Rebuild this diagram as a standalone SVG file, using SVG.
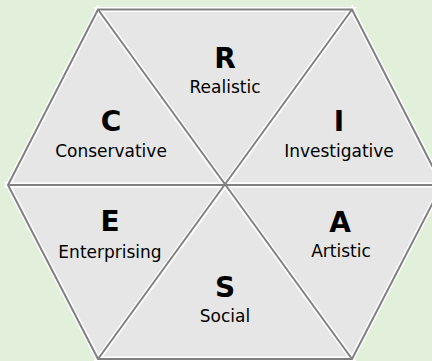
<svg xmlns="http://www.w3.org/2000/svg" width="432" height="361" viewBox="0 0 432 361">
<style>
.tri{fill:#e6e6e6;stroke:#ffffff;stroke-width:5;stroke-linejoin:miter}
.edge{fill:none;stroke:#808080;stroke-width:2;stroke-linejoin:miter}
.big{font-family:"DejaVu Sans",sans-serif;font-weight:bold;font-size:28px;fill:#000;text-anchor:middle}
.lbl{font-family:"DejaVu Sans",sans-serif;font-size:17px;fill:#000;text-anchor:middle}
</style>
<rect x="0" y="0" width="432" height="361" fill="#e2efda"/>
<g id="R">
<polygon class="tri" points="98,9.5 352,9.5 225,185"/>
<text class="big" x="225" y="68">R</text>
<text class="lbl" x="225" y="93">Realistic</text>
</g>
<g id="I">
<polygon class="tri" points="352,9.5 442,185 225,185"/>
<text class="big" x="339" y="130.5">I</text>
<text class="lbl" x="339" y="156.5">Investigative</text>
</g>
<g id="A">
<polygon class="tri" points="442,185 352,359 225,185"/>
<text class="big" x="340" y="232">A</text>
<text class="lbl" x="341" y="257">Artistic</text>
</g>
<g id="S">
<polygon class="tri" points="352,359 98,359 225,185"/>
<text class="big" x="225" y="297">S</text>
<text class="lbl" x="225" y="322">Social</text>
</g>
<g id="E">
<polygon class="tri" points="98,359 8,185 225,185"/>
<text class="big" x="110" y="231">E</text>
<text class="lbl" x="110" y="258">Enterprising</text>
</g>
<g id="C">
<polygon class="tri" points="8,185 98,9.5 225,185"/>
<text class="big" x="111" y="131">C</text>
<text class="lbl" x="111" y="156.5">Conservative</text>
</g>
<g id="connectors">
<polygon class="edge" points="98,9.5 352,9.5 442,185 352,359 98,359 8,185"/>
<line class="edge" x1="98" y1="9.5" x2="352" y2="359"/>
<line class="edge" x1="352" y1="9.5" x2="98" y2="359"/>
<line class="edge" x1="8" y1="185" x2="442" y2="185"/>
</g>
</svg>
